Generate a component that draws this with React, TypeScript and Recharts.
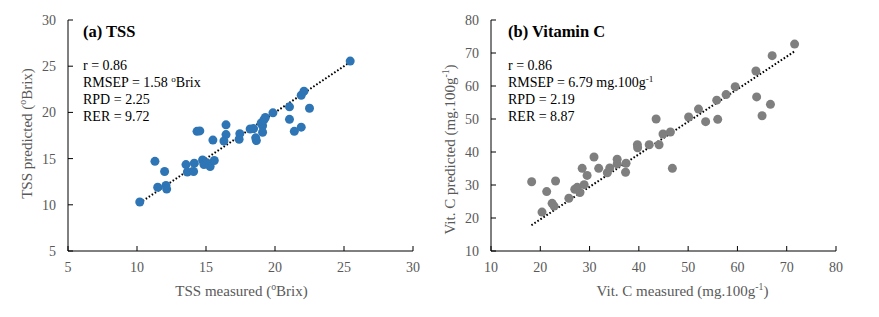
import React from 'react';
import { ScatterChart, Scatter, XAxis, YAxis, ReferenceLine, Label } from 'recharts';

const FONT = "'Liberation Serif', 'Times New Roman', serif";
const TICK_GRAY = '#595959';

// (a) TSS
const tssMeasured = [10.2, 11.3, 11.5, 12.0, 12.1, 12.15, 13.55, 13.65, 14.1, 14.15, 14.35, 14.55, 14.75, 14.85, 15.05, 15.3, 15.6, 15.5, 16.45, 16.45, 16.3, 17.45, 17.4, 18.2, 18.45, 18.6, 18.65, 19.0, 19.1, 19.1, 19.2, 19.3, 19.85, 21.05, 21.05, 21.4, 21.9, 21.9, 22.1, 22.5, 25.45];
const tssPredicted = [10.3, 14.7, 11.9, 13.6, 12.1, 11.7, 14.35, 13.55, 13.6, 14.5, 17.95, 18.0, 14.85, 14.35, 14.55, 14.15, 14.8, 17.0, 18.65, 17.6, 16.9, 17.7, 17.1, 18.2, 18.25, 17.25, 16.95, 18.85, 18.55, 17.85, 19.2, 19.45, 19.95, 20.6, 19.25, 17.95, 18.4, 21.85, 22.3, 20.45, 25.55];
const tssTicks = [5, 10, 15, 20, 25, 30];
const tssFitX = [10.2, 25.5];
const tssFitY = [10.2, 25.5];

// (b) Vitamin C
const vitMeasured = [18.25, 20.35, 21.3, 22.4, 22.8, 23.1, 25.8, 27.0, 27.5, 28.05, 28.9, 28.5, 29.5, 30.9, 31.85, 33.6, 34.1, 35.6, 35.6, 37.3, 37.4, 39.7, 39.75, 42.1, 43.5, 44.1, 44.9, 46.4, 46.8, 50.1, 52.1, 53.55, 56.0, 55.8, 57.7, 59.55, 63.75, 63.9, 65.0, 66.7, 67.05, 71.6];
const vitPredicted = [31.0, 21.8, 28.0, 24.45, 23.6, 31.2, 26.0, 28.7, 29.3, 27.7, 30.1, 35.05, 32.9, 38.5, 35.05, 33.7, 35.15, 37.8, 36.4, 33.85, 36.6, 42.2, 41.3, 42.2, 50.0, 42.2, 45.45, 46.05, 35.05, 50.6, 53.0, 49.2, 49.9, 55.7, 57.4, 59.8, 64.55, 56.7, 51.0, 54.45, 69.2, 72.7];
const vitTicks = [10, 20, 30, 40, 50, 60, 70, 80];
const vitFitX = [18.2, 71.7];
const vitFitY = [17.8, 70.6];

const tssData = tssMeasured.map((x, i) => ({ x, y: tssPredicted[i] }));
const vitData = vitMeasured.map((x, i) => ({ x, y: vitPredicted[i] }));

type Part = { t: string; sup?: boolean };

function renderParts(parts: Part[], size: number) {
  const out: any[] = [];
  let raised = false;
  parts.forEach((p, i) => {
    if (p.sup && !raised) {
      out.push(<tspan key={i} dy={-size * 0.38} fontSize={size * 0.65}>{p.t}</tspan>);
      raised = true;
    } else if (!p.sup && raised) {
      out.push(<tspan key={i} dy={size * 0.38} fontSize={size}>{p.t}</tspan>);
      raised = false;
    } else {
      out.push(<tspan key={i} fontSize={p.sup ? size * 0.65 : size}>{p.t}</tspan>);
    }
  });
  return out;
}

function AxisTitle(props: any) {
  const { viewBox, parts, axis, shift } = props;
  if (!viewBox) return null;
  const size = 15;
  if (axis === 'x') {
    const cx = viewBox.x + viewBox.width / 2 + shift;
    const cy = viewBox.y + 45;
    return (
      <text x={cx} y={cy} textAnchor="middle" fill={TICK_GRAY} fontFamily={FONT} fontSize={size}>
        {renderParts(parts, size)}
      </text>
    );
  }
  const cx = viewBox.x + viewBox.width - 36;
  const cy = viewBox.y + viewBox.height / 2 + shift;
  return (
    <text x={cx} y={cy} textAnchor="middle" fill={TICK_GRAY} fontFamily={FONT} fontSize={size}
      transform={`rotate(-90, ${cx}, ${cy})`}>
      {renderParts(parts, size)}
    </text>
  );
}

function Panel(props: any) {
  const { left, data, ticks, color, fitX, fitY, xTitle, yTitle, xShift, yShift } = props;
  const domain = [ticks[0], ticks[ticks.length - 1]];
  const tickStyle = { fill: TICK_GRAY, fontSize: 14, fontFamily: FONT };
  return (
    <div style={{ position: 'absolute', left, top: 0 }}>
      <ScatterChart width={440} height={317} margin={{ top: 20, right: 27, bottom: 26, left: 18 }}>
        <XAxis type="number" dataKey="x" domain={domain} ticks={ticks} interval={0}
          height={40} tick={tickStyle} tickSize={-5} tickMargin={16}
          axisLine={{ stroke: '#000', strokeWidth: 1 }} tickLine={{ stroke: '#000', strokeWidth: 1 }}
          allowDataOverflow>
          <Label content={(p: any) => <AxisTitle {...p} axis="x" parts={xTitle} shift={xShift} />} />
        </XAxis>
        <YAxis type="number" dataKey="y" domain={domain} ticks={ticks} interval={0}
          width={50} tick={tickStyle} tickSize={-5} tickMargin={17}
          axisLine={{ stroke: '#000', strokeWidth: 1 }} tickLine={{ stroke: '#000', strokeWidth: 1 }}
          allowDataOverflow>
          <Label content={(p: any) => <AxisTitle {...p} axis="y" parts={yTitle} shift={yShift} />} />
        </YAxis>
        <ReferenceLine
          segment={[{ x: fitX[0], y: fitY[0] }, { x: fitX[1], y: fitY[1] }]}
          stroke="#000" strokeWidth={2} strokeDasharray="1.6 2" ifOverflow="visible" />
        <Scatter data={data} fill={color} isAnimationActive={false}
          shape={(p: any) => <circle cx={p.cx} cy={p.cy} r={4.5} fill={color} />} />
      </ScatterChart>
    </div>
  );
}

function Annot(props: any) {
  const { x, title, lines } = props;
  const size = 14;
  const baselines = [70, 87, 104, 121];
  return (
    <g fontFamily={FONT} fill="#000">
      <text x={x} y={37} fontSize={16.5} fontWeight="bold">{title}</text>
      {lines.map((parts: Part[], i: number) => (
        <text key={i} x={x} y={baselines[i]} fontSize={size}>{renderParts(parts, size)}</text>
      ))}
    </g>
  );
}

export default function App() {
  return (
    <div style={{ position: 'absolute', left: 0, top: 0, width: 879, height: 317, background: '#fff' }}>
      <Panel left={0} data={tssData} ticks={tssTicks} color="#2E75B6" fitX={tssFitX} fitY={tssFitY}
        xShift={1} yShift={-2}
        xTitle={[{ t: 'TSS measured (' }, { t: 'o', sup: true }, { t: 'Brix)' }]}
        yTitle={[{ t: 'TSS predicted (' }, { t: 'o', sup: true }, { t: 'Brix)' }]} />
      <Panel left={423} data={vitData} ticks={vitTicks} color="#7F7F7F" fitX={vitFitX} fitY={vitFitY}
        xShift={19} yShift={14}
        xTitle={[{ t: 'Vit. C measured (mg.100g' }, { t: '-1', sup: true }, { t: ')' }]}
        yTitle={[{ t: 'Vit. C predicted (mg.100g' }, { t: '-1', sup: true }, { t: ')' }]} />
      <svg width={879} height={317} style={{ position: 'absolute', left: 0, top: 0, pointerEvents: 'none' }}>
        <Annot x={83} title="(a) TSS" lines={[
          [{ t: 'r = 0.86' }],
          [{ t: 'RMSEP = 1.58 ' }, { t: 'o', sup: true }, { t: 'Brix' }],
          [{ t: 'RPD = 2.25' }],
          [{ t: 'RER = 9.72' }],
        ]} />
        <Annot x={508} title="(b) Vitamin C" lines={[
          [{ t: 'r = 0.86' }],
          [{ t: 'RMSEP = 6.79 mg.100g' }, { t: '-1', sup: true }],
          [{ t: 'RPD = 2.19' }],
          [{ t: 'RER = 8.87' }],
        ]} />
      </svg>
    </div>
  );
}
